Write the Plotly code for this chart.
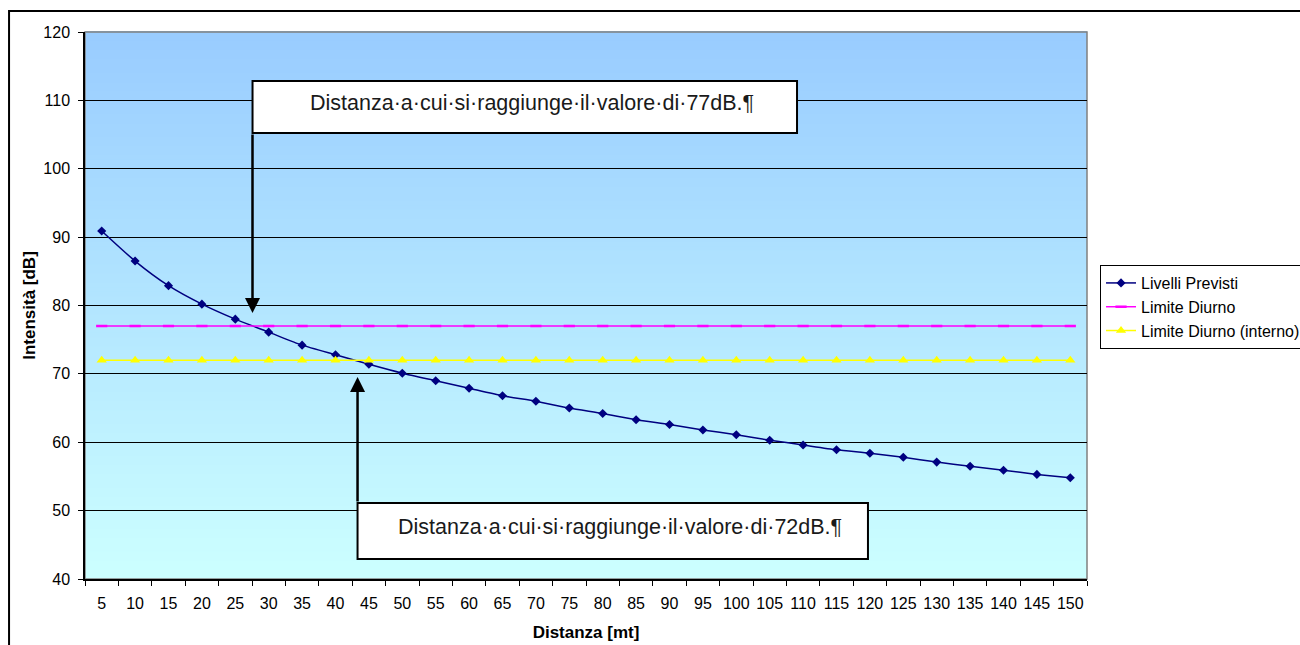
import plotly.graph_objects as go

# Distanze (m) e livelli sonori (dB)
distanze = [5, 10, 15, 20, 25, 30, 35, 40, 45, 50, 55, 60, 65, 70, 75,
            80, 85, 90, 95, 100, 105, 110, 115, 120, 125, 130, 135, 140, 145, 150]
livelli_previsti = [90.9, 86.5, 82.9, 80.2, 78.0, 76.1, 74.2, 72.8, 71.4, 70.1,
                    69.0, 67.9, 66.8, 66.0, 65.0, 64.2, 63.3, 62.6, 61.8, 61.1,
                    60.3, 59.6, 58.9, 58.4, 57.8, 57.1, 56.5, 55.9, 55.3, 54.8]
limite_diurno = [77, 77, 77, 77, 77, 77, 77, 77, 77, 77,
                 77, 77, 77, 77, 77, 77, 77, 77, 77, 77,
                 77, 77, 77, 77, 77, 77, 77, 77, 77, 77]
limite_interno = [72, 72, 72, 72, 72, 72, 72, 72, 72, 72,
                  72, 72, 72, 72, 72, 72, 72, 72, 72, 72,
                  72, 72, 72, 72, 72, 72, 72, 72, 72, 72]
y_ticks = [40, 50, 60, 70, 80, 90, 100, 110, 120]

FONT = "Liberation Sans, Arial, sans-serif"
x_labels = [str(d) for d in distanze]

fig = go.Figure()
fig.add_trace(go.Scatter(
    x=x_labels, y=livelli_previsti, name="Livelli Previsti", legendgroup="a",
    mode="lines+markers",
    line=dict(color="#000080", width=1.5, shape="spline", smoothing=0.6),
    marker=dict(symbol="diamond", size=7, color="#000080"),
))
fig.add_trace(go.Scatter(
    x=x_labels, y=limite_diurno, name="Limite Diurno", legendgroup="b",
    mode="lines+markers",
    line=dict(color="#FF00FF", width=1.5),
    marker=dict(symbol="line-ew", size=8, color="#FF00FF",
                line=dict(color="#FF00FF", width=2.5)),
))
fig.add_trace(go.Scatter(
    x=x_labels, y=limite_interno, name="Limite Diurno (interno)", legendgroup="c",
    mode="lines+markers",
    line=dict(color="#FFFF00", width=1.5),
    marker=dict(symbol="triangle-up", size=9, color="#FFFF00"),
))

# Vertical gradient behind the plot area (blue at top, pale cyan at bottom)
shapes = []
n_bands = 120
top_rgb = (153, 204, 255)
bot_rgb = (204, 255, 255)
for i in range(n_bands):
    t = i / (n_bands - 1)
    r = round(bot_rgb[0] + (top_rgb[0] - bot_rgb[0]) * t)
    g = round(bot_rgb[1] + (top_rgb[1] - bot_rgb[1]) * t)
    b = round(bot_rgb[2] + (top_rgb[2] - bot_rgb[2]) * t)
    shapes.append(dict(
        type="rect", xref="paper", yref="paper",
        x0=0, x1=1, y0=i / n_bands, y1=(i + 1) / n_bands + 0.002,
        fillcolor=f"rgb({r},{g},{b})", line=dict(width=0), layer="below",
    ))
# plot area frame
shapes.append(dict(type="rect", xref="paper", yref="paper", x0=0, x1=1, y0=0, y1=1,
                   line=dict(color="#808080", width=1.5), layer="below"))
# outer chart frame
shapes.append(dict(type="rect", xref="paper", yref="paper",
                   x0=-0.0758, x1=1.4, y0=-0.3, y1=1.0384,
                   line=dict(color="black", width=2), fillcolor="rgba(0,0,0,0)",
                   layer="below"))
# callout boxes
shapes.append(dict(type="rect", xref="paper", yref="paper",
                   x0=0.1672, x1=0.7106, y0=0.8154, y1=0.9104,
                   line=dict(color="black", width=2), fillcolor="white", layer="above"))
shapes.append(dict(type="rect", xref="paper", yref="paper",
                   x0=0.2720, x1=0.7814, y0=0.0366, y1=0.1389,
                   line=dict(color="black", width=2), fillcolor="white", layer="above"))

annotations = [
    dict(xref="paper", yref="paper", x=0.4466, y=0.8700, xanchor="center", yanchor="middle",
         text="Distanza·a·cui·si·raggiunge·il·valore·di·77dB.¶", showarrow=False,
         font=dict(family=FONT, size=21.5, color="#1a1a1a")),
    dict(xref="paper", yref="paper", x=0.5339, y=0.0951, xanchor="center", yanchor="middle",
         text="Distanza·a·cui·si·raggiunge·il·valore·di·72dB.¶", showarrow=False,
         font=dict(family=FONT, size=21.5, color="#1a1a1a")),
    # arrows from the callouts to the crossing points
    dict(xref="x", yref="y", x=4.515, y=78.9, ax=0, ay=-180, text="",
         showarrow=True, arrowhead=2, arrowsize=1.2, arrowwidth=2.5, arrowcolor="black"),
    dict(xref="x", yref="y", x=7.66, y=69.54, ax=0, ay=126, text="",
         showarrow=True, arrowhead=2, arrowsize=1.2, arrowwidth=2.5, arrowcolor="black"),
]

fig.update_layout(
    width=1300, height=645,
    margin=dict(l=85, r=213, t=32, b=66, autoexpand=False),
    paper_bgcolor="white", plot_bgcolor="rgba(0,0,0,0)",
    font=dict(family=FONT, size=16, color="black"),
    shapes=shapes, annotations=annotations,
    showlegend=True,
    legend=dict(x=1.013, y=0.574, xanchor="left", yanchor="top",
                bgcolor="white", bordercolor="black", borderwidth=1,
                font=dict(family=FONT, size=16, color="black"),
                tracegroupgap=6, traceorder="normal"),
    xaxis=dict(type="category", range=[-0.5, 29.5], autorange=False,
               tickson="boundaries", ticks="outside", ticklen=5, tickangle=0,
               tickcolor="black", showline=True, linecolor="black", linewidth=1.5,
               showgrid=False, ticklabelstandoff=9, tickfont=dict(size=16),
               title=dict(text="<b>Distanza [mt]</b>", standoff=15,
                          font=dict(family=FONT, size=17))),
    yaxis=dict(range=[40, 120], tickvals=y_ticks, ticks="outside", ticklen=5,
               tickcolor="black", showline=True, linecolor="black", linewidth=1.5,
               showgrid=True, gridcolor="black", gridwidth=1, zeroline=False,
               ticklabelstandoff=5, tickfont=dict(size=16),
               title=dict(text="<b>Intensità [dB]</b>", standoff=3,
                          font=dict(family=FONT, size=17))),
)

fig.write_html("out.html")
